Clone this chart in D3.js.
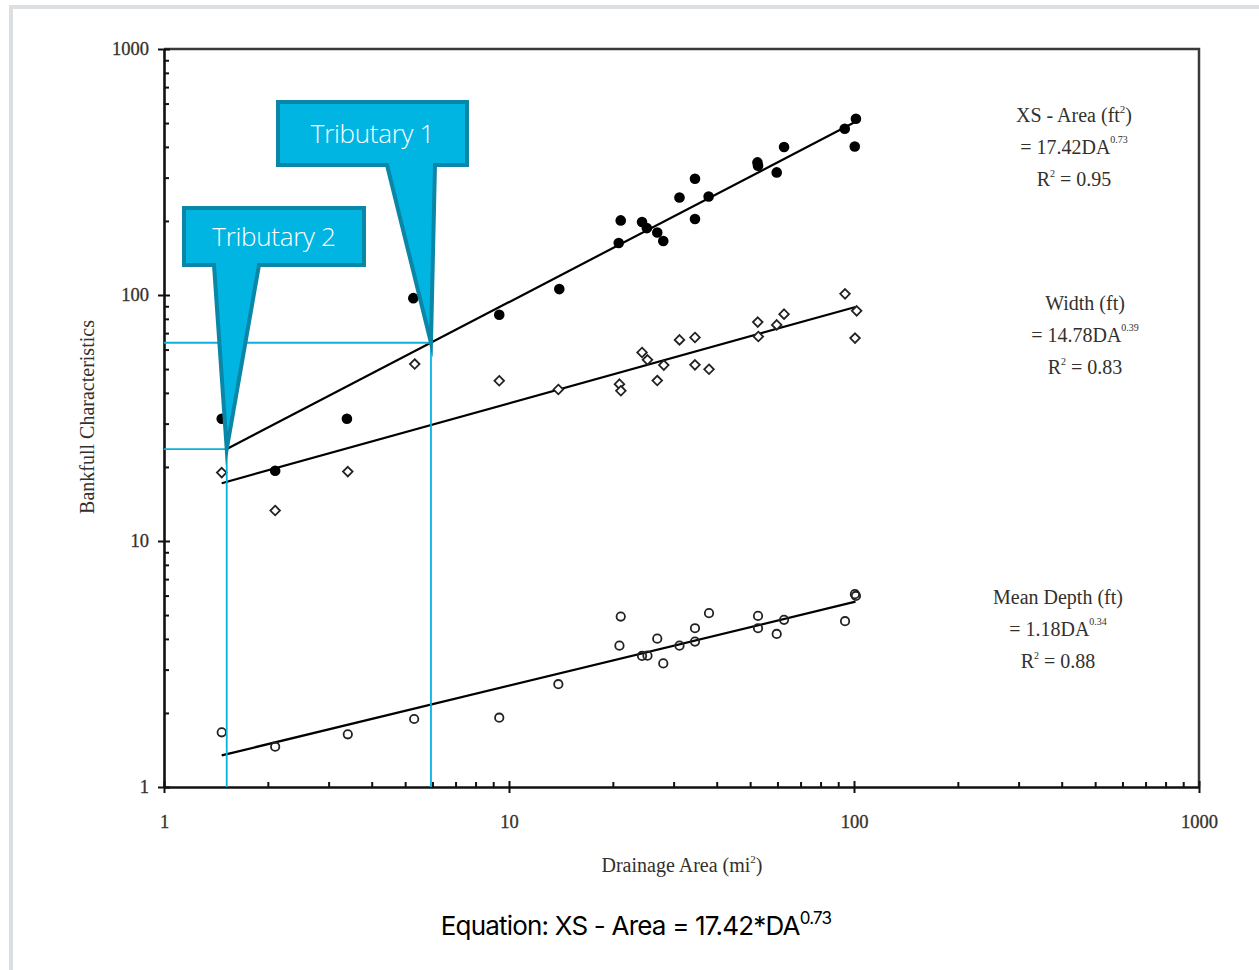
<!DOCTYPE html>
<html><head><meta charset="utf-8">
<script src="https://cdn.jsdelivr.net/npm/d3@7/dist/d3.min.js"></script>
<style>
html,body{margin:0;padding:0;background:#fff;}
svg{display:block;}
.serif{font-family:"Liberation Serif","DejaVu Serif",serif;fill:#33302c;}
</style></head>
<body>
<svg id="chart" width="1259" height="970"></svg>
<script>
// ---- data ----
const xsDA   = [1.47,2.1,3.39,5.28,9.37,13.99,21.08,20.8,24.3,25.1,26.9,28.0,31.2,34.6,34.6,37.9,52.5,52.7,62.7,59.7,94.0,101.3,100.5];
const xsVal  = [31.4,19.3,31.4,97.1,83.1,105.7,201,162.6,198,187,179.6,165.7,249,297,203.6,251.5,346,335.6,399.4,315,474,520.8,401.6];
const wDA    = [1.47,2.1,3.41,5.33,9.37,13.9,20.9,21.1,24.3,25.2,28.1,26.9,31.2,34.6,34.6,38.0,52.6,52.8,59.7,62.7,94.2,101.8,100.7];
const wVal   = [18.97,13.3,19.15,52.4,44.8,41.3,43.4,40.8,58.4,54.5,51.9,44.9,65.7,67.2,52.0,49.9,77.6,67.8,75.6,83.6,101.1,86.2,66.8];
const dDA    = [1.47,2.1,3.41,5.31,9.37,13.9,21.08,20.9,24.3,25.2,26.9,28.0,31.2,34.6,34.6,38.0,52.7,52.7,59.7,62.7,94.2,100.6,101.3];
const dVal   = [1.669,1.458,1.638,1.890,1.913,2.617,4.93,3.755,3.41,3.42,4.01,3.18,3.755,4.42,3.90,5.09,4.96,4.42,4.19,4.78,4.72,6.08,5.98];
const fitCoef = [17.42, 14.78, 1.18];
const fitExp  = [0.73, 0.39, 0.34];
const fitR2   = [0.95, 0.83, 0.88];
const fitStart = [1.53, 1.47, 1.47];
const fitEnd   = [101, 101, 101];
const fitNames = ["XS - Area (ft", "Width (ft)", "Mean Depth (ft)"];
const tribNames = ["Tributary 1", "Tributary 2"];
const tribDA    = [5.94, 1.52];
const majorTicks = [1, 10, 100, 1000];

// ---- layout ----
const svg = d3.select("#chart");
const x = d3.scaleLog().domain([1,1000]).range([164,1199]);
const y = d3.scaleLog().domain([1,1000]).range([787,49]);
const fit = (i,da) => fitCoef[i]*Math.pow(da, fitExp[i]);

// page frame lines
svg.append("rect").attr("x",9).attr("y",5).attr("width",1250).attr("height",4).attr("fill","#dcdfe2");
svg.append("rect").attr("x",9).attr("y",5).attr("width",4).attr("height",965).attr("fill","#dcdfe2");

// minor tick values
const minor = [];
for (const d of [1,10,100]) for (let k=2;k<=9;k++) minor.push(d*k);

const g = svg.append("g");
// top/right border
g.append("path").attr("d",`M${x(1)},${y(1000)}H${x(1000)}V${y(1)}`)
  .attr("fill","none").attr("stroke","#3a3a3a").attr("stroke-width",2.5);

// x axis
const xa = g.append("g").attr("transform",`translate(0,${y(1)})`);
xa.call(d3.axisBottom(x).tickValues(minor).tickSizeInner(-5).tickSizeOuter(0).tickFormat(""));
xa.select(".domain").attr("stroke","#111").attr("stroke-width",2.6);
xa.selectAll(".tick line").attr("stroke","#111").attr("stroke-width",2);
const xm = g.append("g").attr("transform",`translate(0,${y(1)})`);
xm.call(d3.axisBottom(x).tickValues(majorTicks).tickSizeInner(6).tickSizeOuter(0).tickFormat(d3.format("d")).tickPadding(22));
xm.select(".domain").remove();
xm.selectAll(".tick line").attr("stroke","#111").attr("stroke-width",2).attr("y1",-6);
xm.selectAll(".tick text").attr("class","serif").style("font-size","18.5px").attr("fill","#3a332c")
  .attr("stroke","#3a332c").attr("stroke-width",0.3);

// y axis
const ya = g.append("g").attr("transform",`translate(${x(1)},0)`);
ya.call(d3.axisLeft(y).tickValues(minor).tickSizeInner(-5).tickSizeOuter(0).tickFormat(""));
ya.select(".domain").attr("stroke","#111").attr("stroke-width",2.6);
ya.selectAll(".tick line").attr("stroke","#111").attr("stroke-width",2);
const ym = g.append("g").attr("transform",`translate(${x(1)},0)`);
ym.call(d3.axisLeft(y).tickValues(majorTicks).tickSizeInner(6).tickSizeOuter(0).tickFormat(d3.format("d")).tickPadding(9));
ym.select(".domain").remove();
ym.selectAll(".tick line").attr("stroke","#111").attr("stroke-width",2).attr("x1",6);
ym.selectAll(".tick text").attr("class","serif").style("font-size","18.5px").attr("fill","#3a332c")
  .attr("stroke","#3a332c").attr("stroke-width",0.3);

// axis titles
svg.append("text").attr("class","serif").attr("transform",`translate(94,417) rotate(-90)`)
  .attr("text-anchor","middle").style("font-size","20px").text("Bankfull Characteristics");
const xt = svg.append("text").attr("class","serif").attr("x",682).attr("y",872)
  .attr("text-anchor","middle").style("font-size","20px");
xt.append("tspan").text("Drainage Area (mi");
xt.append("tspan").attr("dy",-9).style("font-size","11px").text("2");
xt.append("tspan").attr("dy",9).text(")");

// fit lines
const line = d3.line().x(d=>x(d[0])).y(d=>y(d[1]));
fitCoef.forEach((c,i)=>{
  const pts = [fitStart[i], fitEnd[i]].map(da=>[da, fit(i,da)]);
  g.append("path").attr("d",line(pts)).attr("fill","none").attr("stroke","#000").attr("stroke-width",2.2);
});

// points
g.selectAll(".xs").data(xsDA).join("circle")
  .attr("cx",d=>x(d)).attr("cy",(d,i)=>y(xsVal[i])).attr("r",5.3).attr("fill","#000");
g.selectAll(".w").data(wDA).join("path")
  .attr("d",(d,i)=>{const cx=x(d), cy=y(wVal[i]), s=4.8; return `M${cx},${cy-s}L${cx+s},${cy}L${cx},${cy+s}L${cx-s},${cy}Z`;})
  .attr("fill","#fff").attr("stroke","#222").attr("stroke-width",1.8);
g.selectAll(".dp").data(dDA).join("circle")
  .attr("cx",d=>x(d)).attr("cy",(d,i)=>y(dVal[i])).attr("r",4.2)
  .attr("fill","none").attr("stroke","#222").attr("stroke-width",1.8);

// tributary guide lines
const cyan = "#0bb0dc";
tribDA.forEach(da=>{
  const v = fit(0,da);
  g.append("line").attr("x1",x(1)).attr("x2",x(da)).attr("y1",y(v)).attr("y2",y(v))
    .attr("stroke",cyan).attr("stroke-width",1.8);
  g.append("line").attr("x1",x(da)).attr("x2",x(da)).attr("y1",y(v)).attr("y2",y(1))
    .attr("stroke",cyan).attr("stroke-width",1.8);
});

// callouts
const boxes = [
  {x0:278,y0:102,x1:467,y1:165,p0:387,p1:435},
  {x0:184,y0:208,x1:364,y1:265,p0:214,p1:259}
];
tribNames.forEach((name,i)=>{
  const b = boxes[i], tx = x(tribDA[i]), ty = y(fit(0,tribDA[i]));
  const d = `M${b.x0},${b.y0}H${b.x1}V${b.y1}H${b.p1}L${tx},${ty}L${b.p0},${b.y1}H${b.x0}Z`;
  svg.append("path").attr("d",d).attr("fill","#00b5e2").attr("stroke","#0a86a6")
    .attr("stroke-width",4).attr("stroke-linejoin","miter").attr("stroke-miterlimit",30);
  svg.append("text").attr("x",(b.x0+b.x1)/2).attr("y",(b.y0+b.y1)/2+9)
    .attr("text-anchor","middle").style("font-family","'Open Sans',Inter,sans-serif")
    .style("font-size","26px").style("font-weight","300").style("letter-spacing","-0.3px")
    .attr("fill","#fff").text(name);
});

// equations on right
const eqPos = [{cx:1074,y:122},{cx:1085,y:310},{cx:1058,y:604}];
fitCoef.forEach((c,i)=>{
  const p = eqPos[i];
  const t1 = svg.append("text").attr("class","serif").attr("x",p.cx).attr("y",p.y)
    .attr("text-anchor","middle").style("font-size","20px");
  if (i===0){
    t1.append("tspan").text(fitNames[i]);
    t1.append("tspan").attr("dy",-9).style("font-size","11px").text("2");
    t1.append("tspan").attr("dy",9).text(")");
  } else t1.text(fitNames[i]);
  const t2 = svg.append("text").attr("class","serif").attr("x",p.cx).attr("y",p.y+32)
    .attr("text-anchor","middle").style("font-size","20px");
  t2.append("tspan").text("= " + c.toFixed(2) + "DA");
  t2.append("tspan").attr("dy",-11).style("font-size","10px").text(fitExp[i].toFixed(2));
  const t3 = svg.append("text").attr("class","serif").attr("x",p.cx).attr("y",p.y+64)
    .attr("text-anchor","middle").style("font-size","20px");
  t3.append("tspan").text("R");
  t3.append("tspan").attr("dy",-9).style("font-size","10px").text("2");
  t3.append("tspan").attr("dy",9).text(" = " + fitR2[i].toFixed(2));
});

// caption
const cap = svg.append("text").attr("x",636).attr("y",935).attr("text-anchor","middle")
  .style("font-family","Inter,'Open Sans',sans-serif").style("font-size","26px")
  .style("letter-spacing","-0.8px").attr("fill","#000");
cap.append("tspan").text("Equation: XS - Area = " + fitCoef[0].toFixed(2) + "*DA");
cap.append("tspan").attr("dy",-11).style("font-size","17px").text(fitExp[0].toFixed(2));
</script>
</body></html>
